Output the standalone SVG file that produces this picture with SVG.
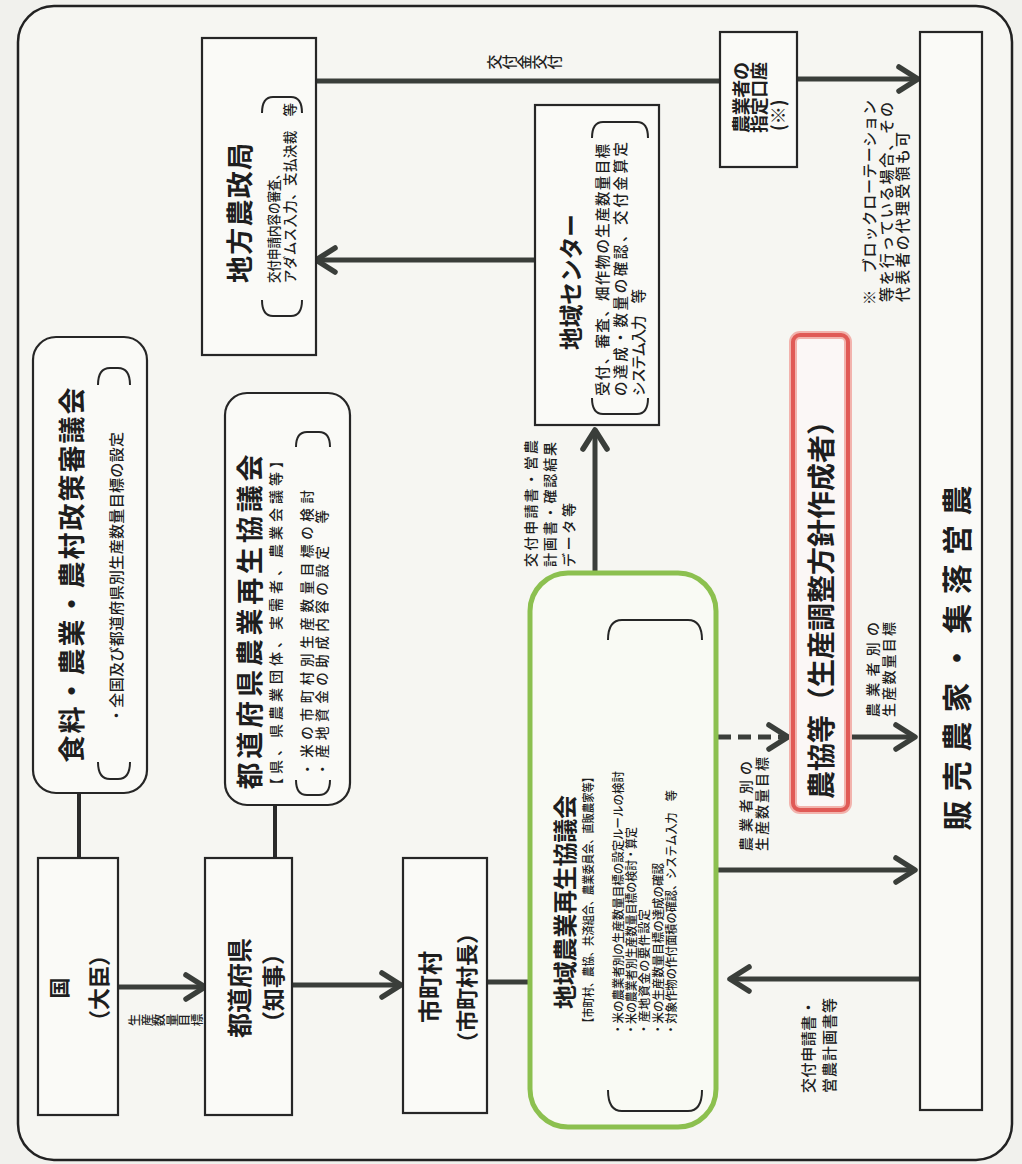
<svg xmlns="http://www.w3.org/2000/svg" width="1022" height="1164" viewBox="0 0 1022 1164">
<defs>
<style>
text{font-family:"Noto Sans CJK JP","Noto Sans CJK SC",sans-serif;fill:#1e1e1e;}
.ttl{font-weight:700;}
.sm{font-weight:500;}
.box{fill:#fafaf7;stroke:#262626;stroke-width:2.2;}
.con{fill:none;stroke:#3a3e3a;stroke-width:5;}
.ln{fill:none;stroke:#2a2a2a;stroke-width:4;}
.brk{fill:none;stroke:#262626;stroke-width:2;}
.vt{writing-mode:vertical-rl;}
</style>
<marker id="ah" viewBox="0 0 26 30" refX="23" refY="15" markerWidth="26" markerHeight="30" orient="auto" markerUnits="userSpaceOnUse">
<path d="M4,3 L23,15 L4,27" fill="none" stroke="#3a3e3a" stroke-width="5.5" stroke-linecap="round" stroke-linejoin="round" stroke-dasharray="none"/>
</marker>
</defs>
<rect width="1022" height="1164" fill="#f1f1ed"/>
<rect x="18" y="6" width="994" height="1154" rx="36" fill="#f6f6f2" stroke="#222" stroke-width="2.5"/>

<g id="connectors">
<path class="ln" d="M79,793 V858"/>
<path class="ln" d="M275,805 V858"/>
<path class="con" d="M118,987 H205" marker-end="url(#ah)"/>
<path class="con" d="M292,985 H401" marker-end="url(#ah)"/>
<path class="con" d="M487,982 H530"/>
<path class="con" d="M595,575 V430" marker-end="url(#ah)"/>
<path class="con" d="M535,260 H316" marker-end="url(#ah)"/>
<path class="con" d="M316,81 H720"/>
<path class="con" d="M797,79 H918" marker-end="url(#ah)"/>
<path class="con" d="M718,737 H788" stroke-dasharray="13 7" marker-end="url(#ah)"/>
<path class="con" d="M848,737 H915" marker-end="url(#ah)"/>
<path class="con" d="M718,870 H915" marker-end="url(#ah)"/>
<path class="con" d="M920,979 H730" marker-end="url(#ah)"/>
<text class="vt sm" transform="translate(487,62) rotate(-90)" font-size="15">交付金交付</text>
<text class="vt sm" transform="translate(128,1020) rotate(-90)" font-size="12.5">生産数量目標</text>
<text class="sm" transform="translate(530,567) rotate(-90)" font-size="14" dominant-baseline="central" textLength="127">交付申請書・営農</text>
<text class="sm" transform="translate(549,567) rotate(-90)" font-size="14" dominant-baseline="central" textLength="125">計画書・確認結果</text>
<text class="sm" transform="translate(568,567) rotate(-90)" font-size="14" dominant-baseline="central" textLength="64">データ等</text>
<text class="sm" transform="translate(745,851) rotate(-90)" font-size="14" dominant-baseline="central" textLength="90">農業者別の</text>
<text class="sm" transform="translate(761,851) rotate(-90)" font-size="14" dominant-baseline="central" textLength="94">生産数量目標</text>
<text class="sm" transform="translate(872,717) rotate(-90)" font-size="14" dominant-baseline="central" textLength="95">農業者別の</text>
<text class="sm" transform="translate(888,717) rotate(-90)" font-size="14" dominant-baseline="central" textLength="95">生産数量目標</text>
<text class="sm" transform="translate(807,1093) rotate(-90)" font-size="15" dominant-baseline="central" textLength="93">交付申請書・</text>
<text class="sm" transform="translate(828,1093) rotate(-90)" font-size="15" dominant-baseline="central" textLength="95">営農計画書等</text>
</g>

<g id="kuni">
<rect class="box" x="38" y="858" width="80" height="257"/>
<text class="ttl" transform="translate(58,988) rotate(-90)" font-size="21" text-anchor="middle" dominant-baseline="central">国</text>
<text class="ttl" transform="translate(97,988) rotate(-90)" font-size="22" text-anchor="middle" dominant-baseline="central">（大臣）</text>
</g>

<g id="shingikai">
<rect class="box" x="33" y="337" width="114" height="456" rx="23"/>
<text class="ttl" transform="translate(70,575) rotate(-90)" font-size="27" text-anchor="middle" dominant-baseline="central" textLength="375">食料・農業・農村政策審議会</text>
<text class="sm" transform="translate(115,723) rotate(-90)" font-size="15" dominant-baseline="central" textLength="291">・全国及び都道府県別生産数量目標の設定</text>
<path class="brk" d="M98,762 Q98,779 110,779 L118,779 Q130,779 130,762"/>
<path class="brk" d="M98,385 Q98,368 110,368 L118,368 Q130,368 130,385"/>
</g>

<g id="todofuken">
<rect class="box" x="205" y="858" width="87" height="257"/>
<text class="ttl" transform="translate(238,988) rotate(-90)" font-size="25" text-anchor="middle" dominant-baseline="central">都道府県</text>
<text class="ttl" transform="translate(272,988) rotate(-90)" font-size="23" text-anchor="middle" dominant-baseline="central">（知事）</text>
</g>

<g id="ken-kyogikai">
<rect class="box" x="225" y="393" width="125" height="412" rx="22"/>
<text class="ttl" transform="translate(248,622) rotate(-90)" font-size="27" text-anchor="middle" dominant-baseline="central" textLength="335">都道府県農業再生協議会</text>
<text class="sm" transform="translate(275,792) rotate(-90)" font-size="14" dominant-baseline="central" textLength="338">【県、県農業団体、実需者、農業会議等】</text>
<text class="sm" transform="translate(306,776) rotate(-90)" font-size="13.5" dominant-baseline="central" textLength="286">・米の市町村別生産数量目標の検討</text>
<text class="sm" transform="translate(321,776) rotate(-90)" font-size="13.5" dominant-baseline="central" textLength="266">・産地資金の助成内容の設定　等</text>
<path class="brk" d="M296,780 Q296,795 307,795 L319,795 Q330,795 330,780"/>
<path class="brk" d="M296,447 Q296,432 307,432 L319,432 Q330,432 330,447"/>
</g>

<g id="noseikyoku">
<rect class="box" x="202" y="38" width="114" height="317"/>
<text class="ttl" transform="translate(238,213) rotate(-90)" font-size="27" text-anchor="middle" dominant-baseline="central" textLength="140">地方農政局</text>
<text class="sm" transform="translate(273,283) rotate(-90)" font-size="13.5" dominant-baseline="central" textLength="115" lengthAdjust="spacingAndGlyphs">交付申請内容の審査、</text>
<text class="sm" transform="translate(289,283) rotate(-90)" font-size="13.5" dominant-baseline="central" textLength="180">アダムス入力、支払決裁　等</text>
<path class="brk" d="M262,300 Q262,316 273,316 L291,316 Q302,316 302,300"/>
<path class="brk" d="M262,113 Q262,97 273,97 L291,97 Q302,97 302,113"/>
</g>

<g id="shichoson">
<rect class="box" x="403" y="858" width="84" height="255"/>
<text class="ttl" transform="translate(428,987) rotate(-90)" font-size="24" text-anchor="middle" dominant-baseline="central">市町村</text>
<text class="ttl" transform="translate(465,988) rotate(-90)" font-size="22" text-anchor="middle" dominant-baseline="central">（市町村長）</text>
</g>

<g id="chiiki-center">
<rect class="box" x="535" y="105" width="124" height="320"/>
<text class="ttl" transform="translate(569,282) rotate(-90)" font-size="24" text-anchor="middle" dominant-baseline="central" textLength="136" lengthAdjust="spacingAndGlyphs">地域センター</text>
<text class="sm" transform="translate(601,396) rotate(-90)" font-size="14.5" dominant-baseline="central" textLength="252">受付、審査、畑作物の生産数量目標</text>
<text class="sm" transform="translate(619,396) rotate(-90)" font-size="14.5" dominant-baseline="central" textLength="254">の達成・数量の確認、交付金算定</text>
<text class="sm" transform="translate(637,396) rotate(-90)" font-size="14.5" dominant-baseline="central" textLength="107">システム入力　等</text>
<path class="brk" d="M592,398 Q592,414 603,414 L637,414 Q648,414 648,398"/>
<path class="brk" d="M592,138 Q592,122 603,122 L637,122 Q648,122 648,138"/>
</g>

<g id="chiiki-kyogikai">
<rect x="530" y="573" width="186" height="554" rx="38" fill="#f9faf4" stroke="#8cc04f" stroke-width="5"/>
<text class="ttl" transform="translate(563,902) rotate(-90)" font-size="24" text-anchor="middle" dominant-baseline="central" textLength="214">地域農業再生協議会</text>
<text class="sm" transform="translate(587,1028) rotate(-90)" font-size="12.5" dominant-baseline="central" textLength="256" lengthAdjust="spacingAndGlyphs">【市町村、農協、共済組合、農業委員会、直販農家等】</text>
<text class="sm" transform="translate(617,1035) rotate(-90)" font-size="12" dominant-baseline="central" textLength="264" lengthAdjust="spacingAndGlyphs">・米の農業者別の生産数量目標の設定ルールの検討</text>
<text class="sm" transform="translate(630,1035) rotate(-90)" font-size="12" dominant-baseline="central" textLength="208" lengthAdjust="spacingAndGlyphs">・米の農業者別生産数量目標の検討・算定</text>
<text class="sm" transform="translate(643,1035) rotate(-90)" font-size="12" dominant-baseline="central" textLength="126">・産地資金の要件設定</text>
<text class="sm" transform="translate(657,1035) rotate(-90)" font-size="12" dominant-baseline="central" textLength="172" lengthAdjust="spacingAndGlyphs">・米の生産数量目標の達成の確認</text>
<text class="sm" transform="translate(670,1035) rotate(-90)" font-size="12" dominant-baseline="central" textLength="245" lengthAdjust="spacingAndGlyphs">・対象作物の作付面積の確認、システム入力　等</text>
<path class="brk" d="M608,1090 Q608,1111 622,1111 L688,1111 Q702,1111 702,1090"/>
<path class="brk" d="M608,640 Q608,620 622,620 L688,620 Q702,620 702,640"/>
</g>

<g id="nokyo">
<rect x="793" y="335" width="55" height="475" rx="7" fill="#fbf7f6" stroke="#f2b3ad" stroke-width="8"/>
<rect x="793" y="335" width="55" height="475" rx="7" fill="none" stroke="#e05a56" stroke-width="4"/>
<text class="ttl" transform="translate(820,603) rotate(-90)" font-size="28" text-anchor="middle" dominant-baseline="central" textLength="392">農協等（生産調整方針作成者）</text>
</g>

<g id="koza">
<rect class="box" x="720" y="32" width="77" height="135"/>
<text class="ttl" transform="translate(740,133) rotate(-90)" font-size="18" dominant-baseline="central" textLength="71">農業者の</text>
<text class="ttl" transform="translate(758,133) rotate(-90)" font-size="18" dominant-baseline="central" textLength="71">指定口座</text>
<text class="ttl" transform="translate(777,131) rotate(-90)" font-size="18" dominant-baseline="central">(※)</text>
</g>

<g id="note">
<text class="sm" transform="translate(868,305) rotate(-90)" font-size="15" dominant-baseline="central" textLength="205">※　ブロックローテーション</text>
<text class="sm" transform="translate(885,302) rotate(-90)" font-size="15" dominant-baseline="central" textLength="200">等を行っている場合、その</text>
<text class="sm" transform="translate(901,302) rotate(-90)" font-size="15" dominant-baseline="central" textLength="170">代表者の代理受領も可</text>
</g>

<g id="hanbai">
<rect class="box" x="920" y="32" width="62" height="1078"/>
<text class="ttl" transform="translate(955,658) rotate(-90)" font-size="30" text-anchor="middle" dominant-baseline="central" textLength="345">販売農家・集落営農</text>
</g>
</svg>
